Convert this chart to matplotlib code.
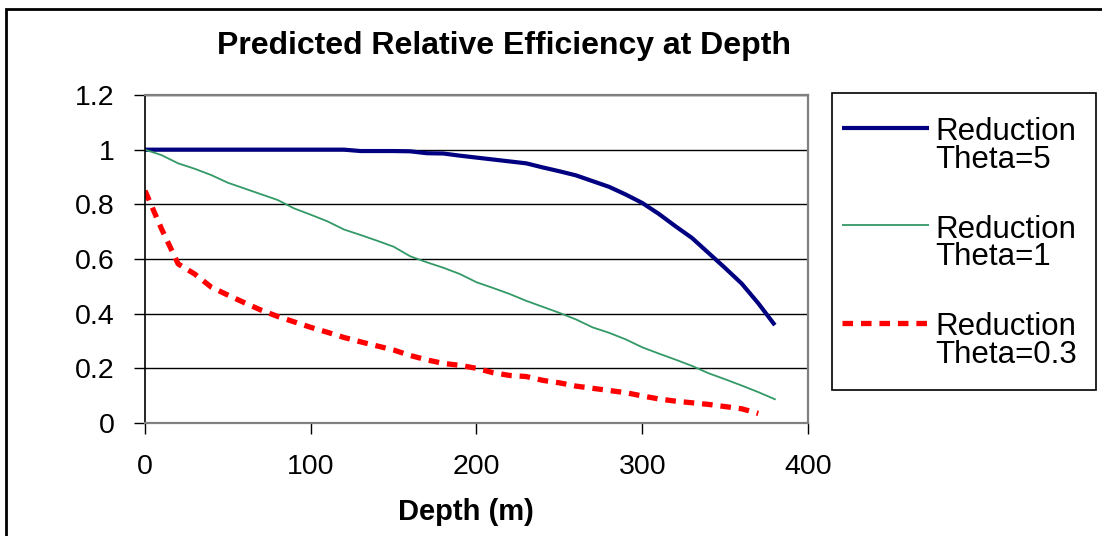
import matplotlib
matplotlib.use("Agg")
import matplotlib.pyplot as plt
from matplotlib.lines import Line2D
from matplotlib.patches import Rectangle

plt.rcParams['font.family'] = ['Liberation Sans', 'DejaVu Sans']

# depth (m) and relative efficiency
depth = [0, 10, 20, 30, 40, 50, 60, 70, 80, 90, 100, 110, 120, 130, 140, 150,
         160, 170, 180, 190, 200, 210, 220, 230, 240, 250, 260, 270, 280, 290,
         300, 310, 320, 330, 340, 350, 360, 370, 380]

theta5 = [1.0, 1.0, 1.0, 1.0, 1.0, 1.0, 1.0, 1.0, 1.0, 1.0, 1.0, 1.0, 1.0,
          0.995, 0.995, 0.995, 0.994, 0.987, 0.986, 0.978, 0.971, 0.964,
          0.957, 0.950, 0.935, 0.921, 0.906, 0.885, 0.864, 0.836, 0.805,
          0.765, 0.720, 0.677, 0.622, 0.567, 0.510, 0.438, 0.358]

theta1 = [1.0, 0.980, 0.950, 0.930, 0.907, 0.879, 0.858, 0.837, 0.816, 0.785,
          0.762, 0.738, 0.708, 0.688, 0.667, 0.645, 0.610, 0.588, 0.568, 0.545,
          0.515, 0.494, 0.472, 0.447, 0.425, 0.403, 0.379, 0.350, 0.330, 0.306,
          0.277, 0.254, 0.232, 0.209, 0.182, 0.160, 0.137, 0.113, 0.087]

theta03 = [0.850, 0.710, 0.582, 0.545, 0.497, 0.468, 0.440, 0.413, 0.390,
           0.370, 0.350, 0.332, 0.313, 0.297, 0.282, 0.267, 0.247, 0.231,
           0.218, 0.211, 0.200, 0.184, 0.174, 0.170, 0.156, 0.147, 0.135,
           0.127, 0.119, 0.111, 0.099, 0.088, 0.080, 0.074, 0.068, 0.060,
           0.052, 0.035]

series_labels = [('Reduction', 'Theta=5'), ('Reduction', 'Theta=1'), ('Reduction', 'Theta=0.3')]
x_ticks = [0, 100, 200, 300, 400]
y_ticks = [0, 0.2, 0.4, 0.6, 0.8, 1.0, 1.2]
y_tick_labels = ['0', '0.2', '0.4', '0.6', '0.8', '1', '1.2']

W, H = 1102, 536
fig = plt.figure(figsize=(W / 100, H / 100), dpi=100)

def fx(px):
    return px / W

def fy(py):
    return 1 - py / H

# outer chart frame
fig.add_artist(Rectangle((fx(6), -0.05), 1.1, fy(9) + 0.05, transform=fig.transFigure,
                         fill=False, edgecolor='black', lw=2))

ax = fig.add_axes([fx(145), fy(423), (808 - 145) / W, (423 - 95) / H])

styles = [dict(color='#000080', lw=3.0),
          dict(color='#339966', lw=1.3),
          dict(color='#ff0000', lw=3.8, dashes=(2.0, 1.5))]

ax.plot(depth, theta5, solid_capstyle='butt', **styles[0])
ax.plot(depth, theta1, **styles[1])
ax.plot(depth[:len(theta03)], theta03, dash_capstyle='butt', **styles[2])

ax.set_xlim(0, 400)
ax.set_ylim(0, 1.2)
ax.set_xticks(x_ticks)
ax.set_xticklabels([str(t) for t in x_ticks])
ax.set_yticks(y_ticks)
ax.set_yticklabels(y_tick_labels)
ax.yaxis.grid(True, color='black', lw=1)
ax.set_axisbelow(True)

ax.tick_params(axis='both', direction='out', length=8, width=1, color='black', labelsize=20.5)
ax.tick_params(axis='y', pad=14)
ax.tick_params(axis='x', pad=14)

for side in ['top', 'right', 'bottom']:
    ax.spines[side].set_color('#808080')
    ax.spines[side].set_linewidth(1.6)
ax.spines['left'].set_color('black')
ax.spines['left'].set_linewidth(1.2)

ax.set_xlabel('Depth (m)', fontsize=21, fontweight='bold')
ax.xaxis.set_label_coords((466 - 145) / 663, (423 - 512) / 328)
ax.xaxis.label.set_verticalalignment('center')

fig.text(fx(504), fy(46), 'Predicted Relative Efficiency at Depth', fontsize=23,
         fontweight='bold', ha='center', va='center')

# legend box drawn to match the original layout
fig.add_artist(Rectangle((fx(832), fy(390)), (1096 - 832) / W, (390 - 93) / H,
                         transform=fig.transFigure, fill=False, edgecolor='black', lw=1.2))
for i, (st, (l1, l2)) in enumerate(zip(styles, series_labels)):
    yc = 128 + i * 97.5
    fig.add_artist(Line2D([fx(842), fx(929)], [fy(yc), fy(yc)], transform=fig.transFigure,
                          solid_capstyle='butt', dash_capstyle='butt', **st))
    fig.text(fx(935), fy(yc + 12), l1, fontsize=22.5, ha='left', va='baseline')
    fig.text(fx(935), fy(yc + 40), l2, fontsize=22.5, ha='left', va='baseline')

plt.savefig('out.png', dpi=100)
